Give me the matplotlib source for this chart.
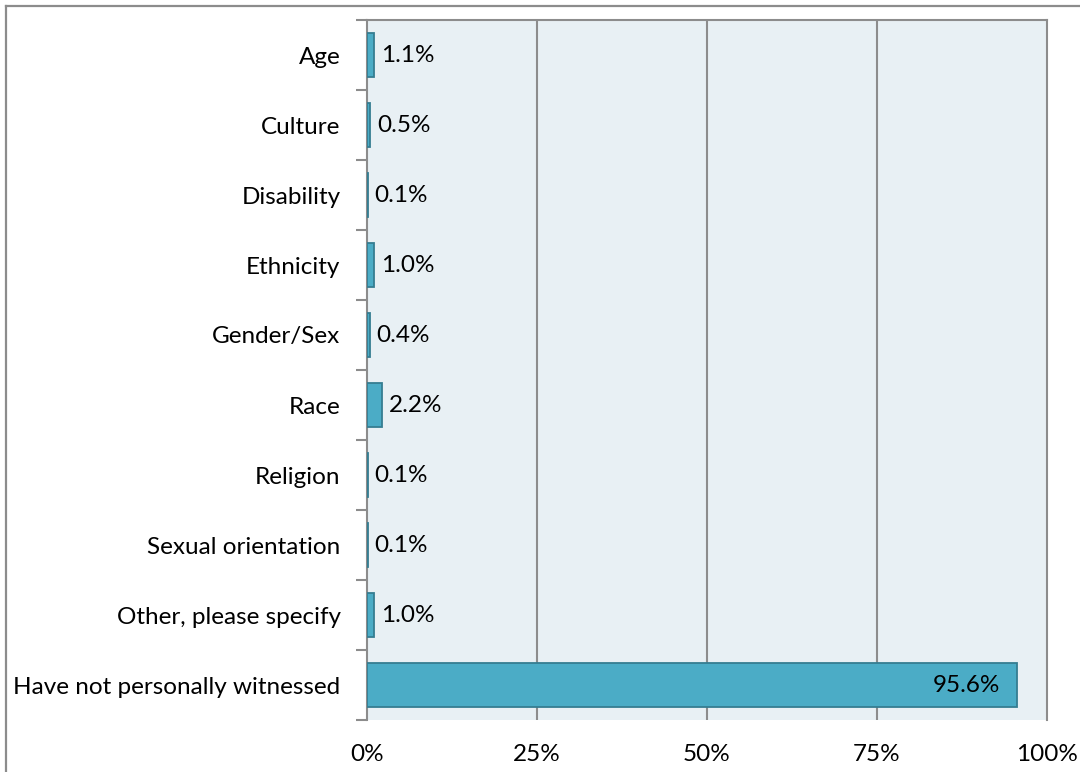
import matplotlib
matplotlib.use("Agg")
import matplotlib.pyplot as plt
from matplotlib.lines import Line2D
from matplotlib.ticker import FixedLocator

categories = [
    "Age", "Culture", "Disability", "Ethnicity", "Gender/Sex", "Race",
    "Religion", "Sexual orientation", "Other, please specify",
    "Have not personally witnessed",
]
values = [1.1, 0.5, 0.1, 1.0, 0.4, 2.2, 0.1, 0.1, 1.0, 95.6]
x_ticks = [0, 25, 50, 75, 100]
x_tick_labels = ["0%", "25%", "50%", "75%", "100%"]

plt.rcParams["font.family"] = ["Lato", "DejaVu Sans"]
FS = 17.5

W, H = 1080, 772
fig = plt.figure(figsize=(W / 100, H / 100), dpi=100)
ax = fig.add_axes([367 / W, 52 / H, 680 / W, 700 / H])

bar_color = "#4BACC6"
edge_color = "#357D91"
grid_color = "#8C8C8C"

ypos = list(range(len(categories)))
ax.barh(ypos, values, height=0.63, color=bar_color, edgecolor=edge_color,
        linewidth=1.3, zorder=3)

ax.set_facecolor("#E8F0F4")
ax.set_xlim(0, 100)
ax.set_ylim(len(categories) - 0.5, -0.5)

# vertical gridlines
for t in x_ticks[1:-1]:
    ax.axvline(t, color=grid_color, linewidth=1.5, zorder=1)

for side in ["top", "right", "left"]:
    ax.spines[side].set_color(grid_color)
    ax.spines[side].set_linewidth(1.5)
ax.spines["bottom"].set_visible(False)

# x axis labels
ax.set_xticks(x_ticks)
ax.set_xticklabels(x_tick_labels, fontsize=FS, color="black")
ax.tick_params(axis="x", length=0, pad=17)

# y axis: labels at bar centres, tick marks at category boundaries
ax.set_yticks(ypos)
ax.set_yticklabels(categories, fontsize=FS, color="black")
ax.tick_params(axis="y", which="major", length=0, pad=19)
ax.yaxis.set_minor_locator(FixedLocator([i - 0.5 for i in range(len(categories) + 1)]))
ax.tick_params(axis="y", which="minor", length=8, width=1.5, color=grid_color)

# value labels
for y, v in zip(ypos, values):
    label = f"{v:.1f}%"
    if v > 50:
        ax.annotate(label, (v, y), xytext=(-12, 0), textcoords="offset points",
                    ha="right", va="center", fontsize=FS, color="black", zorder=4)
    else:
        ax.annotate(label, (v, y), xytext=(5, 0), textcoords="offset points",
                    ha="left", va="center", fontsize=FS, color="black", zorder=4)

# outer chart border (top and left edges)
fig.add_artist(Line2D([6 / W, 1.0], [1 - 6 / H, 1 - 6 / H], transform=fig.transFigure,
                      color="#8C8C8C", linewidth=1.6))
fig.add_artist(Line2D([6 / W, 6 / W], [0.0, 1 - 6 / H], transform=fig.transFigure,
                      color="#8C8C8C", linewidth=1.6))

fig.savefig("out.png", dpi=100, facecolor="white")
